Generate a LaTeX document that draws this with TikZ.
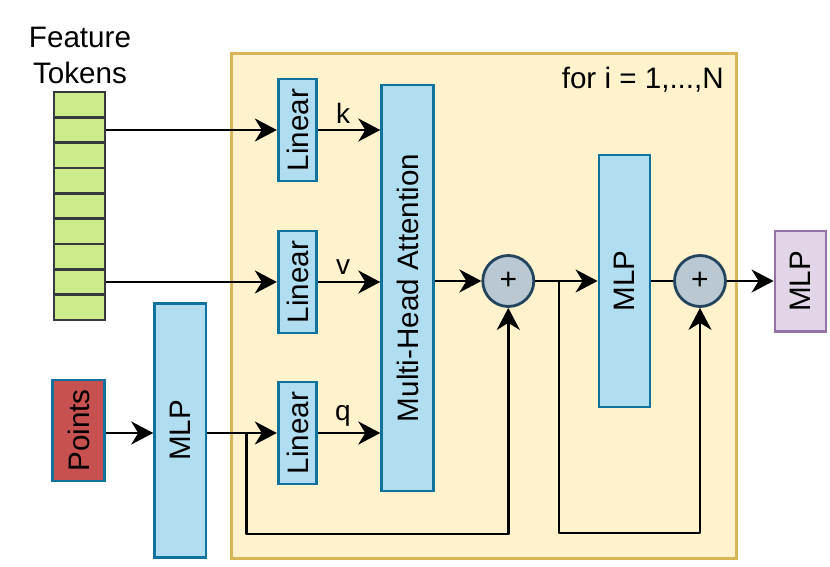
\documentclass[tikz,border=0pt]{standalone}
\usepackage{fontspec}
\setmainfont{Liberation Sans}
\usepackage{graphicx}
\usetikzlibrary{arrows.meta}
\definecolor{blueF}{HTML}{B1DDF0}
\definecolor{blueS}{HTML}{10739E}
\definecolor{yelF}{HTML}{FFF2CC}
\definecolor{yelS}{HTML}{D6B656}
\definecolor{grnF}{HTML}{CDEB8B}
\definecolor{grnS}{HTML}{36393D}
\definecolor{redF}{HTML}{C75050}
\definecolor{gryF}{HTML}{BAC8D3}
\definecolor{gryS}{HTML}{23445D}
\definecolor{purF}{HTML}{E1D5E7}
\definecolor{purS}{HTML}{9673A6}
\begin{document}
\begin{tikzpicture}[x=1pt,y=-1pt,
  every node/.style={font=\fontsize{29.6}{36}\selectfont, inner sep=0pt},
  bluebox/.style={draw=blueS, fill=blueF, line width=2.8pt},
  cell/.style={draw=grnS, fill=grnF, line width=2.8pt, minimum width=51pt, minimum height=25.33pt},
  plus/.style={circle, draw=gryS, fill=gryF, line width=2.8pt, minimum size=51pt, font=\fontsize{30}{34}\selectfont},
  conn/.style={line width=2.8pt, line join=round},
  arr/.style={conn, -{Stealth[length=22pt, width=23pt, inset=7pt]}},
  lbl/.style={font=\fontsize{28}{32}\selectfont}
]
\useasboundingbox (0,0) rectangle (830,567);
% container
\node[draw=yelS, fill=yelF, line width=3pt, minimum width=505pt, minimum height=505pt] (box) at (483.5,306) {};
\node[anchor=east] (fori) at (724,80) {for i = 1,...,N};
% feature tokens
\node[align=center] (ftl) at (80,55) {Feature\\Tokens};
\foreach \i in {1,...,9} {
  \node[cell] (tok\i) at (79.5, {92+12.67+25.33*(\i-1)}) {};
}
% linear boxes
\node[bluebox, minimum width=38.5pt, minimum height=102pt] (lk) at (297.5,130) {\rotatebox{90}{Linear}};
\node[bluebox, minimum width=38.5pt, minimum height=102pt] (lv) at (297.5,282) {\rotatebox{90}{Linear}};
\node[bluebox, minimum width=38.5pt, minimum height=102pt] (lq) at (297.5,433) {\rotatebox{90}{Linear}};
% MHA
\node[bluebox, minimum width=51.6pt, minimum height=406pt] (mha) at (407.5,288) {\rotatebox{90}{Multi-Head Attention}};
% MLPs
\node[bluebox, minimum width=51pt, minimum height=252pt] (mlpM) at (624.5,281) {\rotatebox{90}{MLP}};
\node[bluebox, minimum width=51.3pt, minimum height=254.4pt] (mlpL) at (180.3,430.5) {\rotatebox{90}{MLP}};
\node[draw=purS, fill=purF, line width=2.8pt, minimum width=51pt, minimum height=100.7pt] (mlpP) at (800.5,281.3) {\rotatebox{90}{MLP}};
% points
\node[draw=blueS, fill=redF, line width=2.8pt, minimum width=52pt, minimum height=101pt] (pts) at (78.7,430.5) {\rotatebox{90}{Points}};
% adders
\node[plus] (c1) at (508.3,281) {+};
\node[plus] (c2) at (700,281) {+};
% helper coordinates
\coordinate (yq) at (0,433);
\coordinate (br1) at (246.7,433);
\coordinate (b1) at (246.7,534);
\coordinate (br2) at (559,281);
\coordinate (b2) at (559,533);
% connectors
\draw[arr] (tok2.east) -- (lk.west);
\draw[arr] (tok8.east) -- (lv.west |- tok8.east);
\draw[arr] (pts.east |- yq) -- (mlpL.west |- yq);
\draw[arr] (mlpL.east |- yq) -- (lq.west);
\draw[arr] (br1) -- (b1) -| (c1.south);
\draw[arr] (lk.east) -- (lk.east -| mha.west) node[lbl, pos=0.4, above=5pt] (kl) {k};
\draw[arr] (lv.east) -- (lv.east -| mha.west) node[lbl, pos=0.4, above=6pt] (vl) {v};
\draw[arr] (lq.east) -- (lq.east -| mha.west) node[lbl, pos=0.4, above=5pt] (ql) {q};
\draw[arr] (mha.east |- c1.west) -- (c1.west);
\draw[arr] (c1.east) -- (c1.east -| mlpM.west);
\draw[arr] (br2) -- (b2) -| (c2.south);
\draw[conn] (mlpM.east |- c2.west) -- (c2.west);
\draw[arr] (c2.east) -- (c2.east -| mlpP.west);
\end{tikzpicture}
\end{document}
